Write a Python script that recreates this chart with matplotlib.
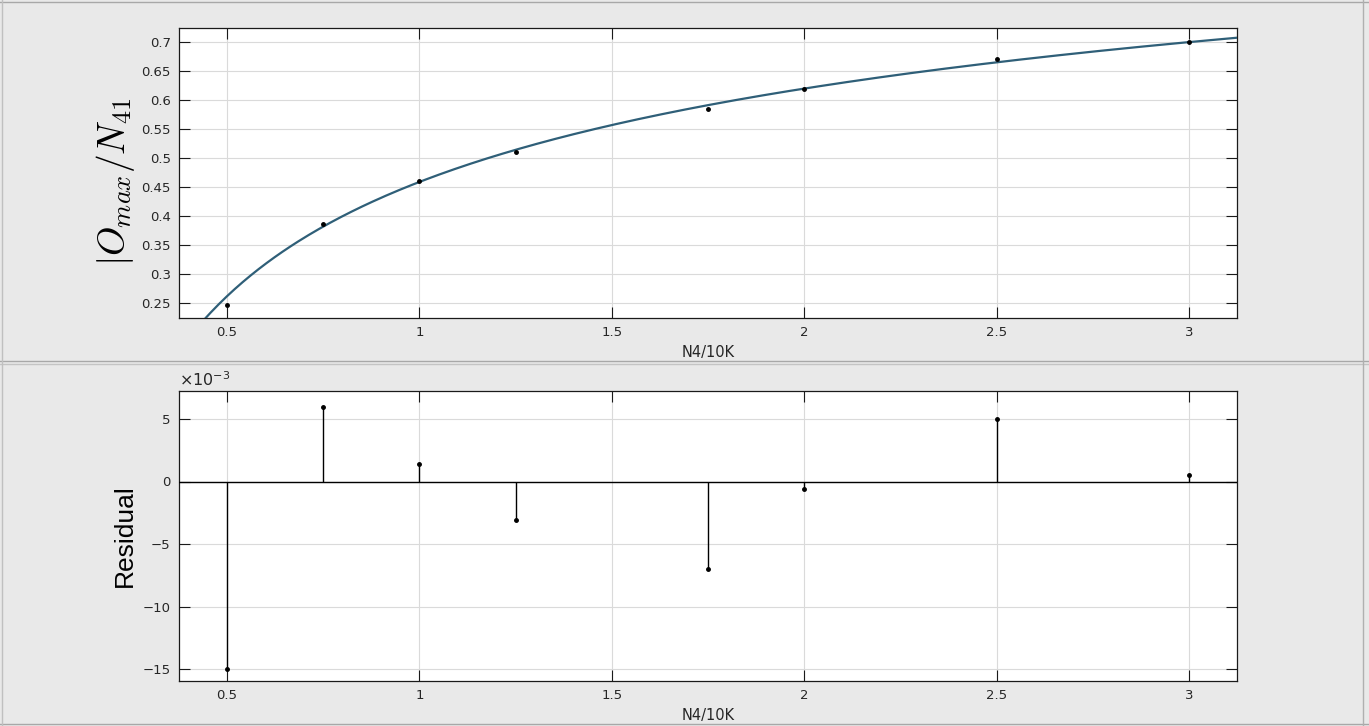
import numpy as np
import matplotlib
matplotlib.use("Agg")
import matplotlib.pyplot as plt
from matplotlib.ticker import FuncFormatter, FixedLocator
from matplotlib.lines import Line2D

# ---- data ----
x_data = [0.5, 0.75, 1.0, 1.25, 1.75, 2.0, 2.5, 3.0]
y_data = [0.2467, 0.3865, 0.4600, 0.5110, 0.5842, 0.6190, 0.6700, 0.7001]
residuals = [-0.0150, 0.0060, 0.0014, -0.0031, -0.0070, -0.0006, 0.0050, 0.0005]
# fitted model y = a*x^b + c (power fit shown in the reference)
fit_a, fit_b, fit_c = -0.881, -0.291, 1.3396

x_ticks = [0.5, 1, 1.5, 2, 2.5, 3]
top_yticks = [0.25, 0.3, 0.35, 0.4, 0.45, 0.5, 0.55, 0.6, 0.65, 0.7]
bot_yticks = [-0.015, -0.010, -0.005, 0.0, 0.005]
xlabel_text = "N4/10K"
top_ylabel = r"$|O_{max}/N_{41}$"
bot_ylabel = "Residual"

BG = "#e9e9e9"
TXT = "#262626"
CURVE = "#2f5f78"

plt.rcParams["mathtext.fontset"] = "dejavusans"
fig = plt.figure(figsize=(13.69, 7.26), dpi=100, facecolor=BG)

W, H = 1369, 726
def ax_rect(l, t, r, b):
    return [l / W, 1 - b / H, (r - l) / W, (b - t) / H]

ax1 = fig.add_axes(ax_rect(179, 28, 1237, 318))
ax2 = fig.add_axes(ax_rect(179, 391, 1237, 681))

def style(ax):
    ax.set_facecolor("white")
    for s in ax.spines.values():
        s.set_linewidth(0.9)
        s.set_color("#1a1a1a")
    ax.tick_params(direction="in", length=8, width=0.8, top=True, right=True,
                   labelsize=9.5, labelcolor=TXT, color="#1a1a1a", pad=6)
    ax.grid(True, color="#dadada", linewidth=0.8)
    ax.set_axisbelow(True)
    ax.set_xlim(0.375, 3.125)
    ax.xaxis.set_major_locator(FixedLocator(x_ticks))
    ax.xaxis.set_major_formatter(FuncFormatter(lambda v, p: "%g" % v))

style(ax1)
style(ax2)

# top: fit curve + data
xs = np.linspace(0.375, 3.125, 400)
ax1.plot(xs, fit_a * xs ** fit_b + fit_c, color=CURVE, linewidth=1.6, zorder=3)
ax1.plot(x_data, y_data, linestyle="none", marker=".", color="black",
         markersize=5, zorder=4)
ax1.set_ylim(0.224, 0.724)
ax1.yaxis.set_major_locator(FixedLocator(top_yticks))
ax1.yaxis.set_major_formatter(FuncFormatter(lambda v, p: "%g" % round(v, 3)))
ax1.set_xlabel(xlabel_text, fontsize=10.5, color=TXT, labelpad=4)
ax1.set_ylabel(top_ylabel, fontsize=27, color="black", math_fontfamily="cm")

# bottom: residuals as stems
ax2.axhline(0, color="black", linewidth=1.0, zorder=3)
ax2.vlines(x_data, 0, residuals, color="black", linewidth=1.0, zorder=3)
ax2.plot(x_data, residuals, linestyle="none", marker=".", color="black",
         markersize=5, zorder=4)
ax2.set_ylim(-0.01596, 0.00724)
ax2.yaxis.set_major_locator(FixedLocator(bot_yticks))
ax2.yaxis.set_major_formatter(
    FuncFormatter(lambda v, p: ("%g" % round(v * 1e3, 3)).replace("-", "\u2212")))
ax2.text(0.0, 1.008, r"$\times10^{-3}$", transform=ax2.transAxes,
         fontsize=11.5, color=TXT, ha="left", va="bottom")
ax2.set_xlabel(xlabel_text, fontsize=10.5, color=TXT, labelpad=4)
ax2.set_ylabel(bot_ylabel, fontsize=19, color="black", family="Liberation Sans")

ax1.yaxis.set_label_coords(-0.040, 0.47)
ax2.yaxis.set_label_coords(-0.040, 0.5)

# panel frames
def hline(y, color, lw=1.0):
    fig.add_artist(Line2D([0, 1], [1 - y / H, 1 - y / H], transform=fig.transFigure,
                          color=color, linewidth=lw))
def vline(x, color, lw=1.0):
    fig.add_artist(Line2D([x / W, x / W], [0, 1], transform=fig.transFigure,
                          color=color, linewidth=lw))

hline(1.5, "#a8a8a8")
hline(361, "#a8a8a8")
hline(363.5, "#c4c4c4")
hline(723.5, "#a8a8a8")
vline(1362.5, "#b0b0b0")
vline(1.5, "#c0c0c0")

fig.savefig("out.png", dpi=100, facecolor=BG)
